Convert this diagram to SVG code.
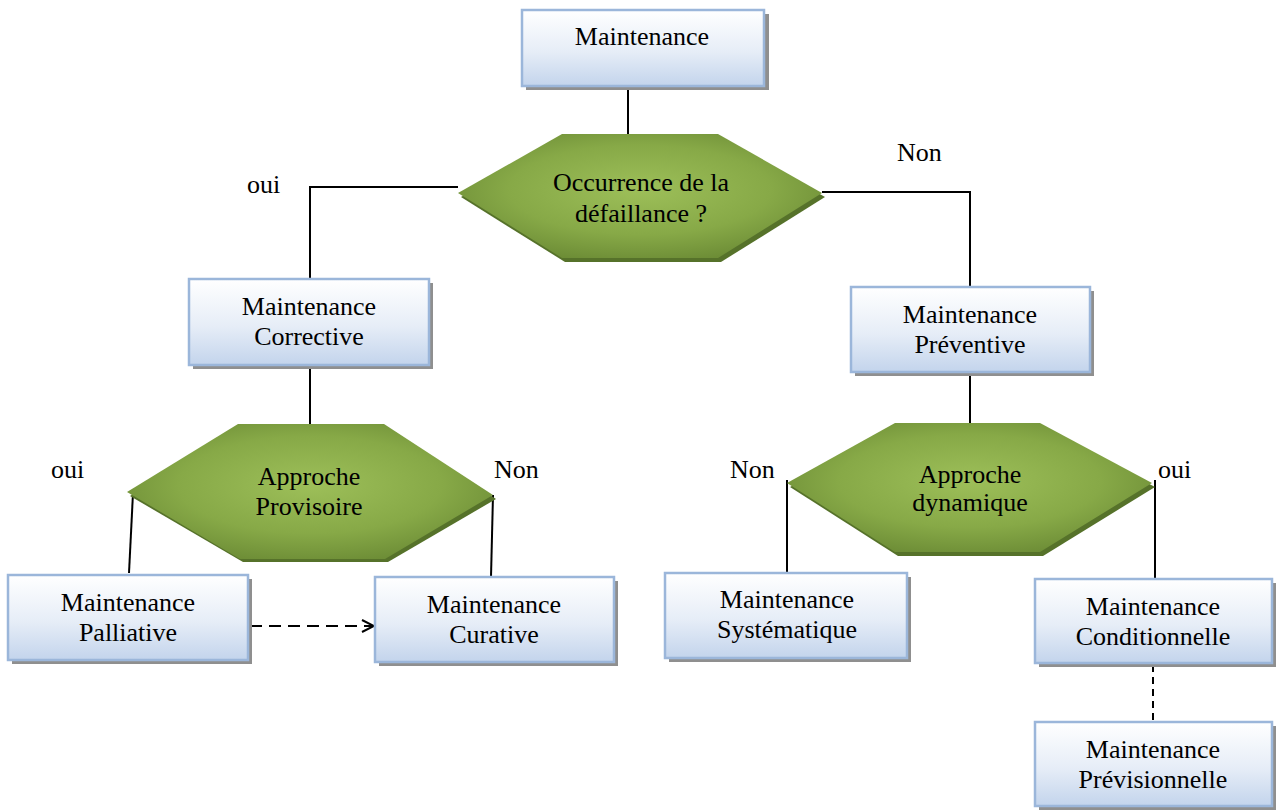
<svg xmlns="http://www.w3.org/2000/svg" width="1276" height="812" viewBox="0 0 1276 812">
  <defs>
    <linearGradient id="boxFill" x1="0" y1="0" x2="0" y2="1">
      <stop offset="0" stop-color="#ffffff"/>
      <stop offset="0.55" stop-color="#e6edf7"/>
      <stop offset="1" stop-color="#c3d4ec"/>
    </linearGradient>
    <radialGradient id="hexFill" cx="0.5" cy="0.45" r="0.6">
      <stop offset="0" stop-color="#9dbf59"/>
      <stop offset="0.6" stop-color="#87a947"/>
      <stop offset="1" stop-color="#6b8b35"/>
    </radialGradient>
    <marker id="openArrow" markerWidth="16" markerHeight="16" refX="14" refY="8" orient="auto" markerUnits="userSpaceOnUse">
      <path d="M2,2 L14,8 L2,14" fill="none" stroke="#000" stroke-width="2"/>
    </marker>
  </defs>
  <style>
    .box { fill: url(#boxFill); stroke: #9bb6da; stroke-width: 2.5; }
    .shadow { fill: #8f8f8f; }
    .hex { fill: url(#hexFill); }
    .hexShadow { fill: #56722a; }
    .t { font-family: "Liberation Serif", "Times New Roman", serif; font-size: 26px; fill: #000; text-anchor: middle; }
    .lbl { font-family: "Liberation Serif", "Times New Roman", serif; font-size: 26px; fill: #000; }
    .wire { fill: none; stroke: #000; stroke-width: 2; }
  </style>

  <rect width="1276" height="812" fill="#ffffff"/>

  <!-- connectors -->
  <g id="connectors">
    <path class="wire" d="M628,86 V134"/>
    <path class="wire" d="M458,187 H310 V279"/>
    <path class="wire" d="M822,192 H970 V287"/>
    <path class="wire" d="M310,365 V424"/>
    <path class="wire" d="M133,493 L129,573"/>
    <path class="wire" d="M493,495 L491,577"/>
    <path class="wire" d="M970,372 V423"/>
    <path class="wire" d="M787,480 V572"/>
    <path class="wire" d="M1155,480 V579"/>
    <path class="wire" d="M250,626 H374" stroke-dasharray="12,7" marker-end="url(#openArrow)"/>
    <path class="wire" d="M1153,665 V722" stroke-dasharray="7,5" stroke-width="1.6"/>
  </g>

  <!-- branch labels -->
  <g id="labels">
    <text class="lbl" x="247" y="193">oui</text>
    <text class="lbl" x="897" y="161">Non</text>
    <text class="lbl" x="51" y="478">oui</text>
    <text class="lbl" x="494" y="478">Non</text>
    <text class="lbl" x="730" y="478">Non</text>
    <text class="lbl" x="1158" y="478">oui</text>
  </g>

  <!-- nodes -->
  <g id="maintenance">
    <rect class="shadow" x="526" y="14" width="243" height="76"/>
    <rect class="box" x="522" y="10" width="242" height="76"/>
    <text class="t" x="642" y="45">Maintenance</text>
  </g>

  <g id="occurrence">
    <polygon class="hexShadow" points="461,197 565,138 721,138 825,197 721,262 565,262"/>
    <polygon class="hex" points="458,193 562,134 718,134 822,193 718,258 562,258"/>
    <text class="t" x="641" y="191">Occurrence de la</text>
    <text class="t" x="641" y="222">défaillance ?</text>
  </g>

  <g id="corrective">
    <rect class="shadow" x="193" y="283" width="240" height="86"/>
    <rect class="box" x="189" y="279" width="240" height="86"/>
    <text class="t" x="309" y="315">Maintenance</text>
    <text class="t" x="309" y="345">Corrective</text>
  </g>

  <g id="preventive">
    <rect class="shadow" x="855" y="291" width="239" height="85"/>
    <rect class="box" x="851" y="287" width="239" height="85"/>
    <text class="t" x="970" y="323">Maintenance</text>
    <text class="t" x="970" y="353">Préventive</text>
  </g>

  <g id="provisoire">
    <polygon class="hexShadow" points="130,496 241,428 388,428 496,499 388,562 243,562"/>
    <polygon class="hex" points="127,492 238,424 384,424 493,495 385,559 240,559"/>
    <text class="t" x="309" y="485">Approche</text>
    <text class="t" x="309" y="515">Provisoire</text>
  </g>

  <g id="dynamique">
    <polygon class="hexShadow" points="790,487 898,427 1043,427 1155,487 1043,556 898,556"/>
    <polygon class="hex" points="787,483 895,423 1040,423 1152,483 1040,552 895,552"/>
    <text class="t" x="970" y="483">Approche</text>
    <text class="t" x="970" y="511">dynamique</text>
  </g>

  <g id="palliative">
    <rect class="shadow" x="12" y="579" width="240" height="85"/>
    <rect class="box" x="8" y="575" width="240" height="85"/>
    <text class="t" x="128" y="611">Maintenance</text>
    <text class="t" x="128" y="641">Palliative</text>
  </g>

  <g id="curative">
    <rect class="shadow" x="379" y="581" width="239" height="85"/>
    <rect class="box" x="375" y="577" width="239" height="85"/>
    <text class="t" x="494" y="613">Maintenance</text>
    <text class="t" x="494" y="643">Curative</text>
  </g>

  <g id="systematique">
    <rect class="shadow" x="669" y="577" width="242" height="85"/>
    <rect class="box" x="665" y="573" width="242" height="85"/>
    <text class="t" x="787" y="608">Maintenance</text>
    <text class="t" x="787" y="638">Systématique</text>
  </g>

  <g id="conditionnelle">
    <rect class="shadow" x="1039" y="583" width="237" height="84"/>
    <rect class="box" x="1035" y="579" width="237" height="84"/>
    <text class="t" x="1153" y="615">Maintenance</text>
    <text class="t" x="1153" y="645">Conditionnelle</text>
  </g>

  <g id="previsionnelle">
    <rect class="shadow" x="1039" y="726" width="237" height="84"/>
    <rect class="box" x="1035" y="722" width="237" height="84"/>
    <text class="t" x="1153" y="758">Maintenance</text>
    <text class="t" x="1153" y="788">Prévisionnelle</text>
  </g>
</svg>
